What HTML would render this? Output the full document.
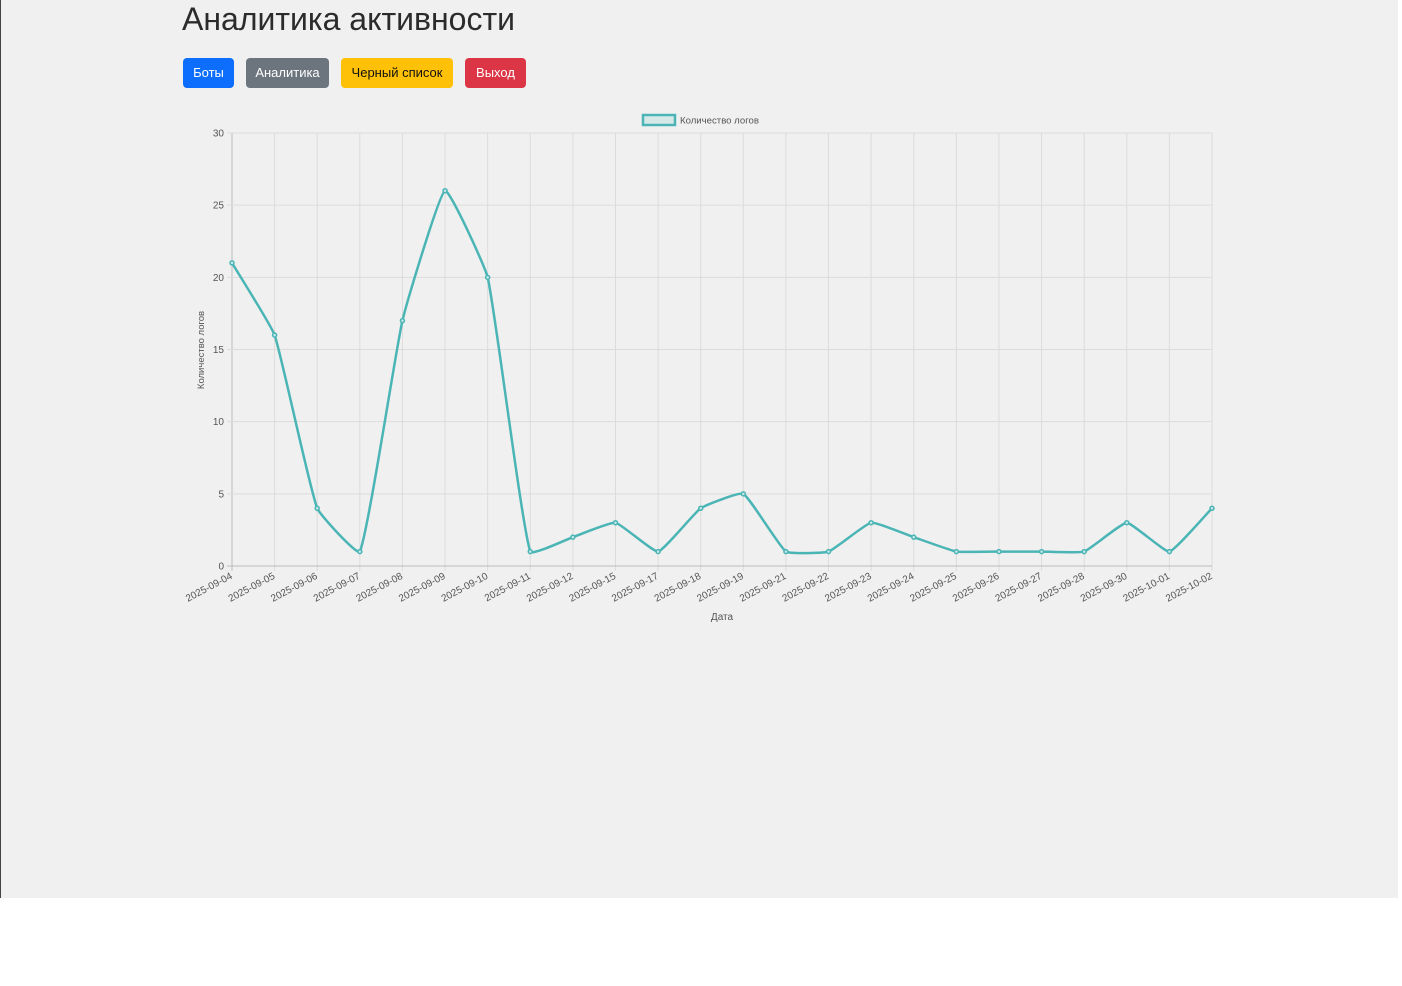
<!DOCTYPE html>
<html><head><meta charset="utf-8"><style>
html,body{margin:0;padding:0;background:#fff;}
#bg{position:absolute;left:0;top:0;width:1398px;height:898px;background:#f0f0f0;border-left:1px solid #444;box-sizing:border-box;}
h1{position:absolute;left:182px;top:0;margin:0;font:400 32px "Liberation Sans",sans-serif;color:#2b2b2b;line-height:38px;}
.b{position:absolute;top:58px;height:30px;border-radius:4px;font:13px "Liberation Sans",sans-serif;line-height:30px;text-align:center;color:#fff;}
svg{position:absolute;left:0;top:0;}
</style></head><body>
<div id="bg"></div>
<h1>Аналитика активности</h1>
<div class="b" style="left:183px;width:51px;background:#0d6efd">Боты</div>
<div class="b" style="left:246px;width:83px;background:#6c757d">Аналитика</div>
<div class="b" style="left:341px;width:112px;background:#ffc107;color:#111">Черный список</div>
<div class="b" style="left:465px;width:61px;background:#dc3545">Выход</div>
<svg id="s" width="1402" height="986" font-family="Liberation Sans, sans-serif"></svg>
<script>
var d=[21,16,4,1,17,26,20,1,2,3,1,4,5,1,1,3,2,1,1,1,1,3,1,4];
var L=["2025-09-04","2025-09-05","2025-09-06","2025-09-07","2025-09-08","2025-09-09","2025-09-10","2025-09-11","2025-09-12","2025-09-15","2025-09-17","2025-09-18","2025-09-19","2025-09-21","2025-09-22","2025-09-23","2025-09-24","2025-09-25","2025-09-26","2025-09-27","2025-09-28","2025-09-30","2025-10-01","2025-10-02"];
var x0=232,x1=1212,y0=566,y1=133,st=(x1-x0)/23,h="";
function X(i){return x0+i*st}function Y(v){return y0-(y0-y1)*v/30}
for(var i=0;i<24;i++){var x=X(i);h+='<line x1="'+x+'" y1="'+y1+'" x2="'+x+'" y2="'+(y0+5)+'" stroke="'+(i?'#dcdcdc':'#bbb')+'"/>';
h+='<text transform="translate('+(x+1)+','+(y0+12)+') rotate(-28)" text-anchor="end" font-size="10" fill="#555">'+L[i]+'</text>';}
for(var v=0;v<=30;v+=5){var y=Y(v);h+='<line x1="'+(x0-5)+'" y1="'+y+'" x2="'+x1+'" y2="'+y+'" stroke="'+(v?'#dcdcdc':'#bbb')+'"/><text x="'+(x0-8)+'" y="'+(y+3.5)+'" text-anchor="end" font-size="10" fill="#555">'+v+'</text>';}
var P=d.map(function(v,i){return[X(i),Y(v)]}),t=0.12,c=[];
for(i=0;i<24;i++){var p=P[i-1]||P[i],q=P[i],n=P[i+1]||P[i];
var a=Math.hypot(q[0]-p[0],q[1]-p[1]),b=Math.hypot(n[0]-q[0],n[1]-q[1]),s=a+b||1,fa=t*a/s,fb=t*b/s;
c.push([[q[0]-fa*(n[0]-p[0]),q[1]-fa*(n[1]-p[1])],[q[0]+fb*(n[0]-p[0]),q[1]+fb*(n[1]-p[1])]]);}
var path="M"+P[0];for(i=1;i<24;i++)path+=" C"+c[i-1][1]+" "+c[i][0]+" "+P[i];
h+='<path d="'+path+'" fill="none" stroke="#4bb5b5" stroke-width="2.5"/>';
P.forEach(function(p){h+='<circle cx="'+p[0]+'" cy="'+p[1]+'" r="2" fill="#c9e6e6" stroke="#4bb5b5" stroke-width="1.5"/>'});
h+='<rect x="643" y="115" width="32" height="10" fill="#d6e8e8" stroke="#4bb5b5" stroke-width="2.5"/><text x="680" y="123.5" font-size="9.6" fill="#555">Количество логов</text>';
h+='<text transform="translate(204,350) rotate(-90)" text-anchor="middle" font-size="9.5" fill="#555">Количество логов</text>';
h+='<text x="722" y="620" text-anchor="middle" font-size="10" fill="#555">Дата</text>';
document.getElementById("s").innerHTML=h;
</script>
</body></html>
